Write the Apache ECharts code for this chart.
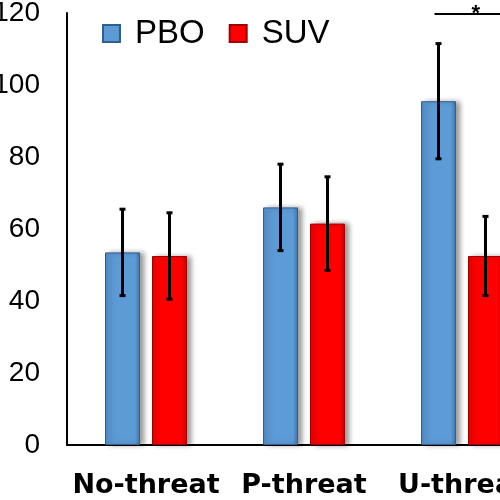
<!DOCTYPE html>
<html>
<head>
<meta charset="utf-8">
<script src="https://cdn.jsdelivr.net/npm/echarts@6/dist/echarts.min.js"></script>
<style>html,body{margin:0;padding:0;background:#fff;}#c{width:500px;height:500px;}</style>
</head>
<body>
<div id="c"></div>
<script>
var categories = ['No-threat', 'P-threat', 'U-threat'];
var pboValues = [53.5, 66, 95.5];
var suvValues = [52.5, 61.5, 52.5];
var pboErrors = [12, 12, 16];
var suvErrors = [12, 13, 11];
var yTicks = [0, 20, 40, 60, 80, 100, 120];
var sigCategory = 2;
var sigLevel = 120;
var sigLabel = '*';

var BAR_W = 35, GAP = 12;
var HALF = (BAR_W + GAP) / 2;

function errData(vals, errs) {
  return vals.map(function (v, i) { return [i, v - errs[i], v + errs[i]]; });
}
function errRender(offset) {
  return function (params, api) {
    var x = api.value(0);
    var lo = api.coord([x, api.value(1)]);
    var hi = api.coord([x, api.value(2)]);
    var cx = lo[0] + offset;
    var cap = 3;
    var st = { stroke: '#000', lineWidth: 3 };
    return {
      type: 'group',
      children: [
        { type: 'line', shape: { x1: cx, y1: hi[1], x2: cx, y2: lo[1] }, style: st },
        { type: 'line', shape: { x1: cx - cap, y1: hi[1], x2: cx + cap, y2: hi[1] }, style: st },
        { type: 'line', shape: { x1: cx - cap, y1: lo[1], x2: cx + cap, y2: lo[1] }, style: st }
      ]
    };
  };
}

var blueGrad = new echarts.graphic.LinearGradient(0, 0, 1, 0, [
  { offset: 0, color: '#4a86c0' }, { offset: 0.12, color: '#5d9bd6' },
  { offset: 0.85, color: '#5d9bd6' }, { offset: 1, color: '#3f76ad' }
]);
var redGrad = new echarts.graphic.LinearGradient(0, 0, 1, 0, [
  { offset: 0, color: '#e00000' }, { offset: 0.12, color: '#ff0000' },
  { offset: 0.85, color: '#ff0000' }, { offset: 1, color: '#c80000' }
]);

var chart = echarts.init(document.getElementById('c'), null, { renderer: 'canvas' });
chart.setOption({
  animation: false,
  backgroundColor: '#fff',
  grid: { left: 67, top: 13, width: 474, height: 432, containLabel: false, outerBoundsMode: 'none' },
  legend: {
    left: 102, top: 17, padding: 0,
    itemWidth: 17, itemHeight: 17, itemGap: 24,
    icon: 'rect',
    data: ['PBO', 'SUV'],
    textStyle: { fontFamily: 'Liberation Sans', fontSize: 33, color: '#000', padding: [0, 0, 0, 10] }
  },
  xAxis: {
    type: 'category',
    data: categories,
    axisLine: { lineStyle: { color: '#000', width: 2 } },
    axisTick: { show: false },
    axisLabel: { interval: 0, hideOverlap: false, fontFamily: 'DejaVu Sans', fontWeight: 'bold', fontSize: 27, color: '#000', margin: 27 }
  },
  yAxis: {
    type: 'value',
    min: 0, max: 120, interval: 20,
    splitLine: { show: false },
    axisLine: { show: true, lineStyle: { color: '#000', width: 2 } },
    axisTick: { show: false },
    axisLabel: {
      fontFamily: 'Liberation Sans', fontSize: 28, color: '#000', margin: 27,
      formatter: function (v) { return yTicks.indexOf(v) >= 0 ? String(v) : ''; }
    }
  },
  series: [
    {
      name: 'PBO', type: 'bar', data: pboValues, barWidth: BAR_W, barGap: (GAP / BAR_W * 100) + '%',
      itemStyle: { color: blueGrad, borderColor: '#2f5f8f', borderWidth: 1,
        shadowColor: 'rgba(0,0,0,0.4)', shadowBlur: 5, shadowOffsetX: 4, shadowOffsetY: 0 }
    },
    {
      name: 'SUV', type: 'bar', data: suvValues, barWidth: BAR_W,
      itemStyle: { color: redGrad, borderColor: '#a00000', borderWidth: 1,
        shadowColor: 'rgba(0,0,0,0.4)', shadowBlur: 5, shadowOffsetX: 4, shadowOffsetY: 0 }
    },
    { type: 'custom', data: errData(pboValues, pboErrors), renderItem: errRender(-HALF), z: 5, clip: false },
    { type: 'custom', data: errData(suvValues, suvErrors), renderItem: errRender(HALF), z: 5, clip: false },
    {
      type: 'custom', data: [[sigCategory, sigLevel]], z: 6, clip: false,
      renderItem: function (params, api) {
        var p = api.coord([api.value(0), api.value(1)]);
        var x1 = p[0] - HALF - 4, x2 = p[0] + 55;
        return {
          type: 'group',
          children: [
            { type: 'line', shape: { x1: x1, y1: p[1] + 1, x2: x2, y2: p[1] + 1 }, style: { stroke: '#000', lineWidth: 2 } },
            { type: 'text', style: { text: sigLabel, x: (x1 + x2) / 2, y: p[1] + 12, textAlign: 'center', textVerticalAlign: 'bottom',
              font: 'bold 22px "Liberation Sans"', fill: '#000' } }
          ]
        };
      }
    }
  ]
});
</script>
</body>
</html>
